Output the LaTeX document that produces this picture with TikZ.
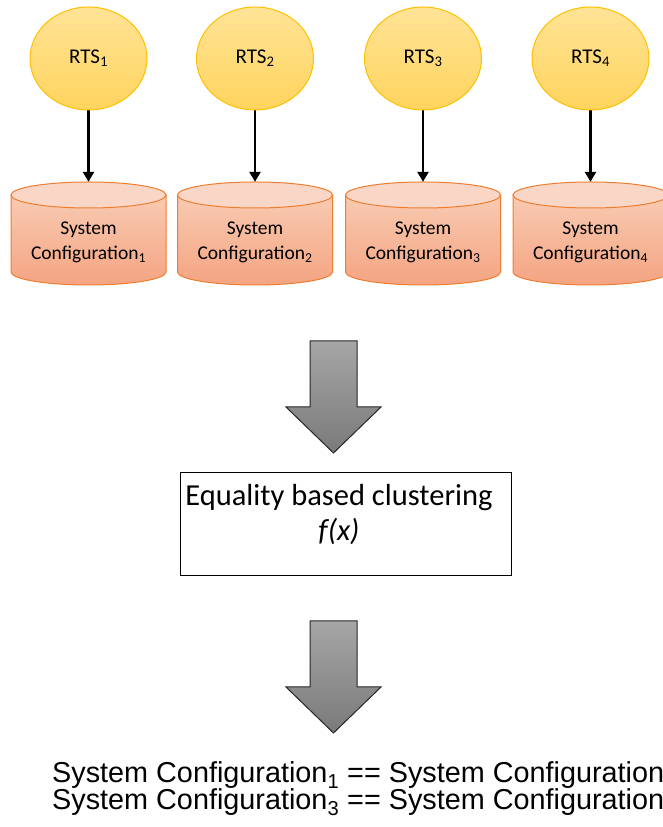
\documentclass[tikz,border=0pt]{standalone}
\usepackage{fontspec}
\setmainfont{Carlito}
\newfontfamily\arialfont{Liberation Sans}
\usetikzlibrary{shapes.geometric}
\usetikzlibrary{arrows.meta}
\pgfdeclarelayer{edgelayer}
\pgfdeclarelayer{nodelayer}
\pgfsetlayers{edgelayer,nodelayer,main}
\definecolor{rtsline}{HTML}{FFC000}
\definecolor{rtstop}{HTML}{FFE396}
\definecolor{rtsbottom}{HTML}{FFD45E}
\definecolor{cfgline}{HTML}{ED7D31}
\definecolor{cfgtop}{HTML}{F8CBB2}
\definecolor{cfgbottom}{HTML}{F4A482}
\definecolor{cfglid}{HTML}{F9D6C6}
\definecolor{graytop}{HTML}{A6A6A6}
\definecolor{graybottom}{HTML}{7A7A7A}
\tikzstyle{none}=[inner sep=0pt]
\tikzstyle{rts}=[ellipse, draw=rtsline, line width=1pt, top color=rtstop, bottom color=rtsbottom, minimum width=117pt, minimum height=103pt, inner sep=0pt, font=\fontsize{21}{24}\selectfont]
\tikzstyle{config}=[inner sep=0pt, minimum width=155pt, minimum height=120pt, align=center, font=\fontsize{19.5}{25}\selectfont]
\tikzstyle{cylbody}=[draw=cfgline, line width=1pt, top color=cfgtop, bottom color=cfgbottom]
\tikzstyle{cyllid}=[draw=cfgline, line width=1pt, fill=cfglid]
\tikzstyle{transition}=[-{Triangle[length=10pt,width=11pt]}, draw=black, line width=2.5pt]
\tikzstyle{blockarrow}=[draw=black!85, line width=1pt, top color=graytop, bottom color=graybottom, line join=miter]
\tikzstyle{clusterbox}=[draw=black, line width=0.8pt, minimum width=331pt, minimum height=103pt, inner sep=0pt]
\tikzstyle{clustertext}=[inner sep=0pt, align=center, font=\fontsize{30.5}{35}\selectfont]
\tikzstyle{result}=[inner sep=0pt, align=left, font=\arialfont\fontsize{28.8}{27}\selectfont]

\begin{document}
\begin{tikzpicture}[x=1pt, y=1pt]
	\useasboundingbox (0,0) rectangle (662,827);
	\begin{pgfonlayer}{nodelayer}
		\node [style=rts] (rts1) at (88.5, 768.5) {\raisebox{-2pt}{RTS\textsubscript{1}}};
		\node [style=rts] (rts2) at (255, 768.5) {\raisebox{-2pt}{RTS\textsubscript{2}}};
		\node [style=rts] (rts3) at (423, 768.5) {\raisebox{-2pt}{RTS\textsubscript{3}}};
		\node [style=rts] (rts4) at (590.5, 768.5) {\raisebox{-2pt}{RTS\textsubscript{4}}};
		\node [style=config] (cfg1) at (88.5, 585) {System\\Configuration\textsubscript{1}};
		\node [style=config] (cfg2) at (255, 585) {System\\Configuration\textsubscript{2}};
		\node [style=config] (cfg3) at (423, 585) {System\\Configuration\textsubscript{3}};
		\node [style=config] (cfg4) at (590.5, 585) {System\\Configuration\textsubscript{4}};
		\node [style=clusterbox] (cluster) at (345.5, 303.5) {};
		\node [style=clustertext] (clusterlabel) at (339, 312) {Equality based clustering\\\textit{f(x)}};
		\node [style=result, anchor=base west] (equal) at (52, 17) {System Configuration\textsubscript{1} == System Configuration\textsubscript{2}\\System Configuration\textsubscript{3} == System Configuration\textsubscript{4}};
	\end{pgfonlayer}
	\begin{pgfonlayer}{edgelayer}
		% cylinders behind the configuration labels
		\foreach \cx in {88.5, 255, 423, 590.5} {
			\draw [style=cylbody] (\cx-77.5, 632) -- (\cx-77.5, 555) arc [start angle=180, end angle=360, x radius=77.5, y radius=13] -- (\cx+77.5, 632) -- cycle;
			\draw [style=cyllid] (\cx, 632) ellipse [x radius=77.5, y radius=13];
		}
		\draw [style=transition] (rts1) to (cfg1);
		\draw [style=transition] (rts2) to (cfg2);
		\draw [style=transition] (rts3) to (cfg3);
		\draw [style=transition] (rts4) to (cfg4);
		% block arrows
		\foreach \top in {486, 206} {
			\draw [style=blockarrow] (310, \top) -- (357, \top) -- (357, \top-66) -- (381, \top-66) -- (333.5, \top-112) -- (286, \top-66) -- (310, \top-66) -- cycle;
		}
	\end{pgfonlayer}
\end{tikzpicture}
\end{document}
